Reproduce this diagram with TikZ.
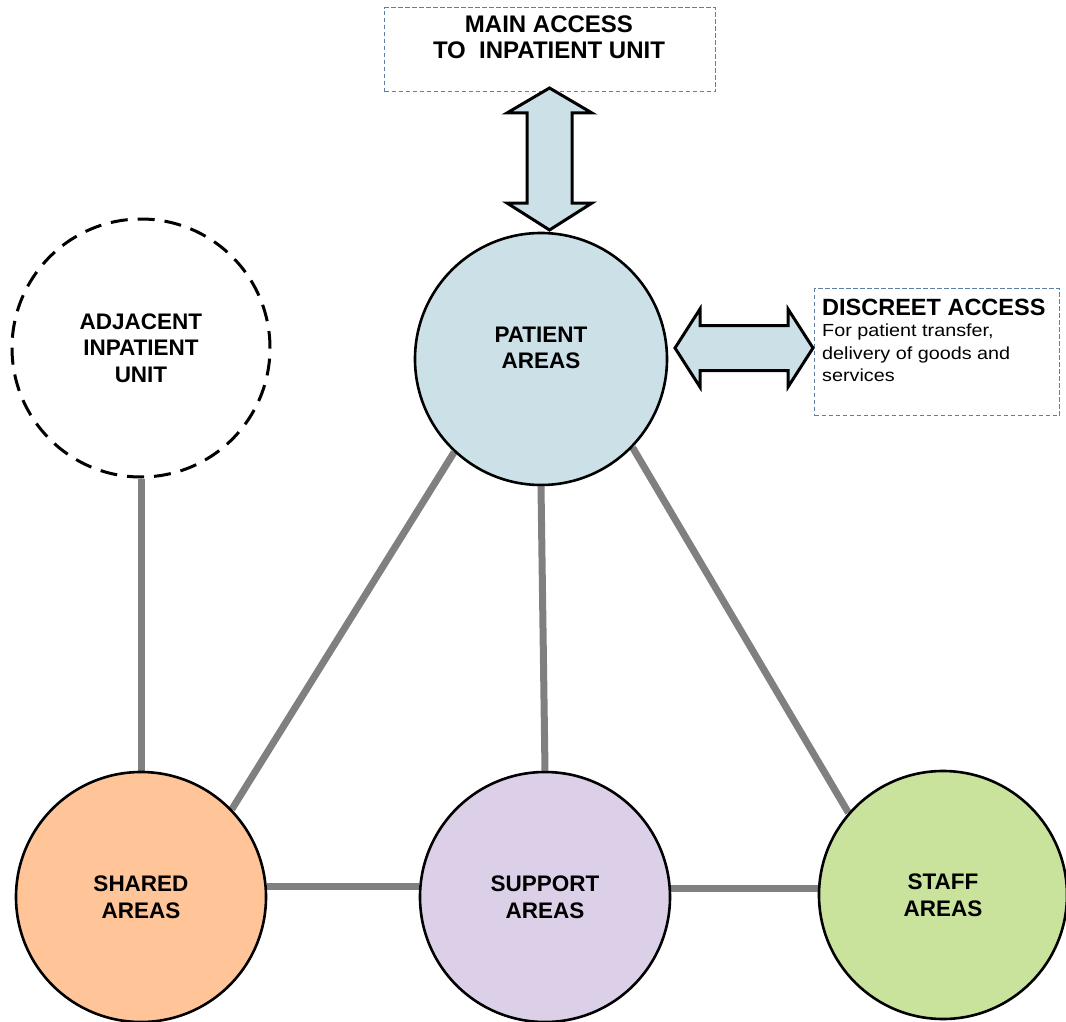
\documentclass[tikz,border=0pt]{standalone}
\usepackage{fontspec}
\setmainfont{Liberation Sans}
\newfontfamily\widefont[FakeStretch=1.13]{Liberation Sans}
\usetikzlibrary{backgrounds}
\definecolor{patientc}{HTML}{CCE1E7}
\definecolor{sharedc}{HTML}{FFC599}
\definecolor{supportc}{HTML}{DCD0E8}
\definecolor{staffc}{HTML}{CAE39C}
\definecolor{boxc}{HTML}{5D7FA6}
\definecolor{linkc}{HTML}{808080}
\begin{document}
\begin{tikzpicture}[x=1pt,y=-1pt,
  area/.style={circle,draw=black,line width=2.6pt,minimum size=#1,inner sep=0pt,align=center,
    font=\fontsize{22.5}{26.5}\selectfont\bfseries},
  link/.style={draw=linkc,line width=7pt},
  accessbox/.style={draw=boxc,line width=1.4pt,dash pattern=on 4.5pt off 2.5pt},
  blockarrow/.style={draw=black,line width=3pt,fill=patientc,line join=miter}]
\useasboundingbox (0,0) rectangle (1066,1022);

% circles
\node[area=252pt,fill=patientc] (patient) at (541,359) {};
\node[font=\fontsize{22.5}{26.5}\selectfont\bfseries,align=center] (patientt) at (541,348) {PATIENT\\AREAS};
\node[area=258pt,line width=3pt,dash pattern=on 17pt off 10pt] (adjacent) at (141,348) {ADJACENT\\INPATIENT\\UNIT};
\node[area=250pt,fill=sharedc] (shared) at (141,897) {SHARED\\AREAS};
\node[area=250pt,fill=supportc] (support) at (545,897) {SUPPORT\\AREAS};
\node[area=248pt,fill=staffc] (staff) at (943,895) {STAFF\\AREAS};

% connectors
\begin{scope}[on background layer]
\draw[link] (adjacent.south) -- (shared.north -| adjacent.south);
\draw[link] (patient.227) -- (shared.44);
\draw[link] (patient.south) -- (support.north);
\draw[link] (patient.-44) -- (staff.139);
\draw[link] (shared.5) -- (shared.5 -| support.west);
\draw[link] (support.4) -- (support.4 -| staff.west);
\end{scope}

% main access box
\node[accessbox,minimum width=331pt,minimum height=84pt,anchor=north west] (mainbox) at (384,7) {};
\node[font=\fontsize{24}{26}\selectfont\bfseries,align=center,anchor=north,inner sep=0pt] (maintext) at (549,16) {MAIN ACCESS\\TO\ \ INPATIENT UNIT};

% discreet access box
\node[accessbox,minimum width=245pt,minimum height=127pt,anchor=north west] (discbox) at (814,288) {};
\node[anchor=north west,inner sep=0pt,font=\fontsize{23.5}{24}\selectfont\bfseries] (disctitle) at (822,299) {DISCREET ACCESS};
\node[anchor=north west,inner sep=0pt,align=left,font=\widefont\fontsize{17.5}{22.5}\selectfont] (disctext) at (822,324) {For patient transfer,\\delivery of goods and\\services};

% block arrows
\draw[blockarrow] (549.5,88) -- (592,113) -- (572,113) -- (572,203) -- (592,203) -- (549.5,230)
  -- (507,203) -- (527,203) -- (527,113) -- (507,113) -- cycle;
\draw[blockarrow] (675,348) -- (700,309) -- (700,325.5) -- (788,325.5) -- (788,309) -- (813,348)
  -- (788,387) -- (788,370.5) -- (700,370.5) -- (700,387) -- cycle;
\end{tikzpicture}
\end{document}
